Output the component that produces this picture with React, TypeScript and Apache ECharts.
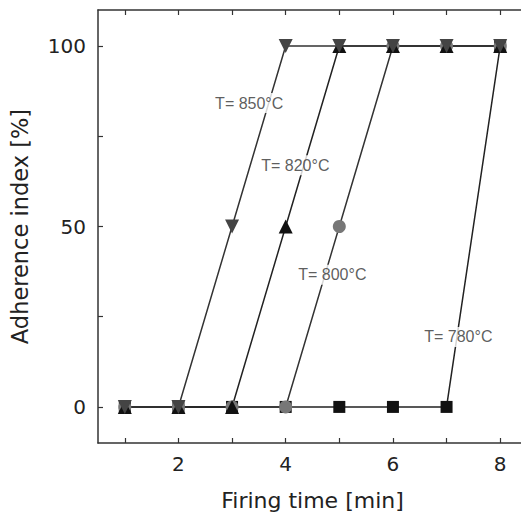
import React, { useEffect, useRef } from "react";
import * as echarts from "echarts";

const firingTime = [1, 2, 3, 4, 5, 6, 7, 8];
const adh780 = [0, 0, 0, 0, 0, 0, 0, 100];
const adh800 = [0, 0, 0, 0, 50, 100, 100, 100];
const adh820 = [0, 0, 0, 50, 100, 100, 100, 100];
const adh850 = [0, 0, 50, 100, 100, 100, 100, 100];

const xMajorTicks = [2, 4, 6, 8];
const xAllTicks = [1, 2, 3, 4, 5, 6, 7, 8];
const yMajorTicks = [0, 50, 100];
const yAllTicks = [0, 25, 50, 75, 100];

const labelTexts = ["T= 850°C", "T= 820°C", "T= 800°C", "T= 780°C"];
const labelX = [3.32, 4.18, 4.87, 7.22];
const labelY = [84.2, 67.0, 36.6, 19.4];

const AXFONT = "DejaVu Sans, sans-serif";
const LBFONT = "Liberation Sans, Arial, sans-serif";

export default function App() {
  const ref = useRef<HTMLDivElement>(null);
  useEffect(() => {
    if (!ref.current) return;
    const chart = echarts.init(ref.current, null, { renderer: "svg" });
    const pts = (ys: number[]) => firingTime.map((x, i) => [x, ys[i]]);
    const axisLine = { show: true, onZero: false, lineStyle: { color: "#333", width: 1.5 } };
    const mkX = (pos: "bottom" | "top", labels: boolean) => ({
      type: "value",
      position: pos,
      min: 0.5,
      max: 8.5,
      axisLine,
      splitLine: { show: false },
      axisTick: { show: true, inside: true, length: 5, customValues: xAllTicks, lineStyle: { color: "#333", width: 1.2 } },
      axisLabel: {
        show: labels,
        customValues: xMajorTicks,
        margin: 11,
        fontSize: 20,
        color: "#222",
        fontFamily: AXFONT,
      },
      ...(labels
        ? {
            name: "Firing time [min]",
            nameLocation: "middle",
            nameGap: 46,
            nameTextStyle: { fontSize: 22, color: "#222", fontFamily: AXFONT },
          }
        : {}),
    });
    const mkY = (pos: "left" | "right", labels: boolean) => ({
      type: "value",
      position: pos,
      min: -10,
      max: 110,
      axisLine,
      splitLine: { show: false },
      axisTick: { show: true, inside: true, length: 5, customValues: yAllTicks, lineStyle: { color: "#333", width: 1.2 } },
      axisLabel: {
        show: labels,
        customValues: yMajorTicks,
        margin: 12,
        fontSize: 20,
        color: "#222",
        fontFamily: AXFONT,
      },
      ...(labels
        ? {
            name: "Adherence index [%]",
            nameLocation: "middle",
            nameGap: 67,
            nameTextStyle: { fontSize: 22.5, color: "#222", fontFamily: AXFONT },
          }
        : {}),
    });
    const lineSeries = (
      name: string,
      ys: number[],
      symbol: string,
      size: number,
      color: string,
      lineColor: string,
      rotate = 0
    ) => ({
      name,
      type: "line",
      data: pts(ys),
      symbol,
      symbolSize: size,
      symbolRotate: rotate,
      showAllSymbol: true,
      itemStyle: { color, borderWidth: 0 },
      lineStyle: { color: lineColor, width: 1.5 },
      emphasis: { disabled: true },
    });
    chart.setOption({
      animation: false,
      grid: { left: 98, top: 10, right: 2, bottom: 77 },
      xAxis: [mkX("bottom", true), mkX("top", false)],
      yAxis: [mkY("left", true), mkY("right", false)],
      series: [
        lineSeries("780", adh780, "rect", 12, "#111", "#222"),
        lineSeries("800", adh800, "circle", 13, "#777", "#333"),
        lineSeries("820", adh820, "triangle", 14, "#111", "#222"),
        lineSeries("850", adh850, "triangle", 14, "#444", "#333", 180),
        {
          type: "scatter",
          data: labelTexts.map((t, i) => ({ value: [labelX[i], labelY[i]], name: t })),
          symbol: "rect",
          symbolSize: 1,
          itemStyle: { color: "rgba(0,0,0,0)" },
          z: 10,
          label: {
            show: true,
            position: "inside",
            formatter: (p: any) => p.name,
            fontSize: 16,
            color: "#333",
            fontFamily: LBFONT,
            backgroundColor: "#fff",
            padding: [2, 2],
          },
          emphasis: { disabled: true },
        },
      ],
    });
    return () => chart.dispose();
  }, []);
  return <div ref={ref} style={{ width: 529, height: 520, margin: -8 }} />;
}
